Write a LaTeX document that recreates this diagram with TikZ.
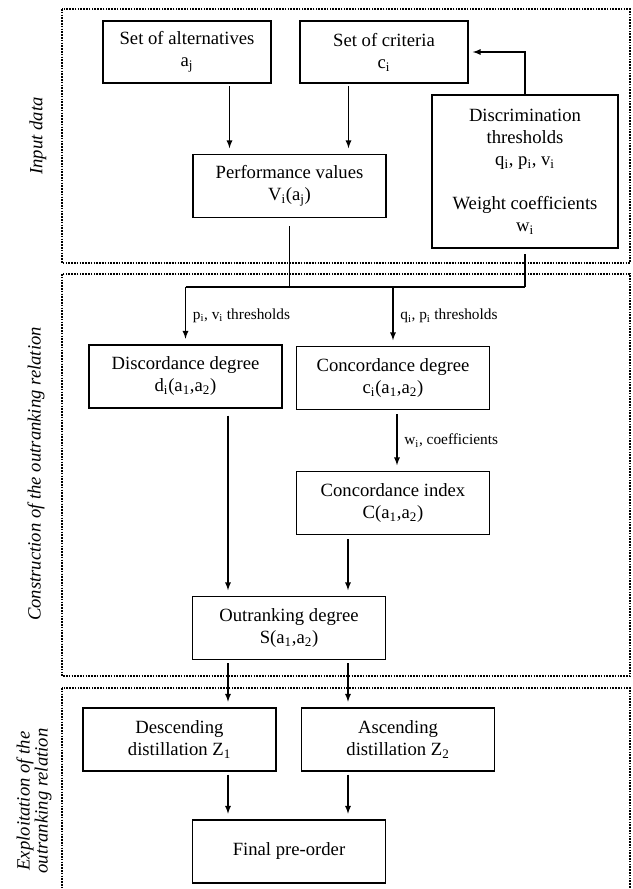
\documentclass[tikz,border=0pt]{standalone}
\usepackage{fontspec}
\setmainfont{Liberation Serif}
\usetikzlibrary{calc,arrows,positioning}

\begin{document}
\begin{tikzpicture}[x=0.75pt,y=-0.75pt,>=latex]
\tikzstyle{main}=[draw=black, line width=1.2pt, minimum width=144.75pt, minimum height=47.5pt, align=center, inner sep=2pt, font=\fontsize{14}{16.5}\selectfont]
\tikzstyle{lab}=[right=5pt, inner sep=0pt, font=\fontsize{11.5}{13}\selectfont]
\tikzstyle{side}=[rotate=90, align=center, font=\fontsize{14}{13.5}\selectfont\itshape]
\tikzstyle{panel}=[line width=0.8pt, dash pattern=on 1.2pt off 0.9pt]
\tikzstyle{arr}=[->, line width=1pt, shorten <=2pt, shorten >=4pt]
\tikzstyle{wire}=[line width=1pt]
\useasboundingbox (0,0) rectangle (632,889);

% the three stages
\foreach \ytop/\ybot in {9/263,274/676,688/900}
    \draw[panel] (62,\ytop) rectangle (630,\ybot);
\node[side] (s1) at (38,136) {Input data};
\node[side] (s2) at (36,474) {Construction of the outranking relation};
\node[side] (s3) at (34,801) {Exploitation of the\\outranking relation};

% input data
\node[main, minimum width=126pt, minimum height=46.5pt] (alt) at (187,52) {Set of alternatives\\a\textsubscript{j}};
\node[main, minimum width=126pt, minimum height=46.5pt] (crit) at (384,52) {Set of criteria\\c\textsubscript{i}};
\node[main, minimum width=139.5pt, minimum height=114.75pt] (disc) at (525,171.5) {Discrimination\\thresholds\\q\textsubscript{i}, p\textsubscript{i}, v\textsubscript{i}\\[16.5pt]Weight coefficients\\w\textsubscript{i}};
\node[main] (perf) at (289.5,186) {Performance values\\V\textsubscript{i}(a\textsubscript{j})};

% outranking relation
\node[main] (dd) at (185.5,376.5) {Discordance degree\\d\textsubscript{i}(a\textsubscript{1},a\textsubscript{2})};
\node[main] (cd) at (393,378) {Concordance degree\\c\textsubscript{i}(a\textsubscript{1},a\textsubscript{2})};
\node[main] (ci) at (393,503) {Concordance index\\C(a\textsubscript{1},a\textsubscript{2})};
\node[main] (out) at (289,628) {Outranking degree\\S(a\textsubscript{1},a\textsubscript{2})};

% exploitation
\node[main] (desc) at (179.5,739.5) {Descending\\distillation Z\textsubscript{1}};
\node[main] (asc) at (398,739.5) {Ascending\\distillation Z\textsubscript{2}};
\node[main] (fin) at (289,851.5) {Final pre-order};

\coordinate (br) at (0,287);
\coordinate (pl) at ($(perf.north)+(-60,0)$);
\coordinate (pr) at ($(perf.north)+(59,0)$);
\coordinate (ol) at ($(out.north)+(-61,0)$);
\coordinate (or) at ($(out.north)+(59,0)$);
\coordinate (fl) at ($(fin.north)+(-61,0)$);
\coordinate (fr) at ($(fin.north)+(59,0)$);

\draw[arr] (pl |- alt.south) -- (pl);
\draw[arr] (pr |- crit.south) -- (pr);
\draw[arr, shorten <=0pt, shorten >=3pt] (disc.north) |- (crit.east);

\draw[wire, shorten <=6pt] (perf.south) -- (perf.south |- br);
\draw[wire, shorten <=4pt] (disc.south) -- (disc.south |- br);
\draw[wire] (dd.north |- br) -- (disc.south |- br);
\draw[arr, shorten <=0pt] (dd.north |- br) -- node[lab] (l1) {p\textsubscript{i}, v\textsubscript{i} thresholds} (dd.north);
\draw[arr, shorten <=0pt] (cd.north |- br) -- node[lab] (l2) {q\textsubscript{i}, p\textsubscript{i} thresholds} (cd.north);
\draw[arr, shorten <=3pt] ([xshift=3pt]cd.south) -- node[lab] (l3) {w\textsubscript{i}, coefficients} ([xshift=3pt]ci.north);

\draw[arr, shorten <=5pt] (ol |- dd.south) -- (ol);
\draw[arr, shorten <=3pt] (or |- ci.south) -- (or);
\foreach \c/\b in {fl/desc, fr/asc}
   {
    \draw[arr] (\c |- out.south) -- (\c |- \b.north);
    \draw[arr] (\c |- \b.south) -- (\c);
   }
\end{tikzpicture}
\end{document}
